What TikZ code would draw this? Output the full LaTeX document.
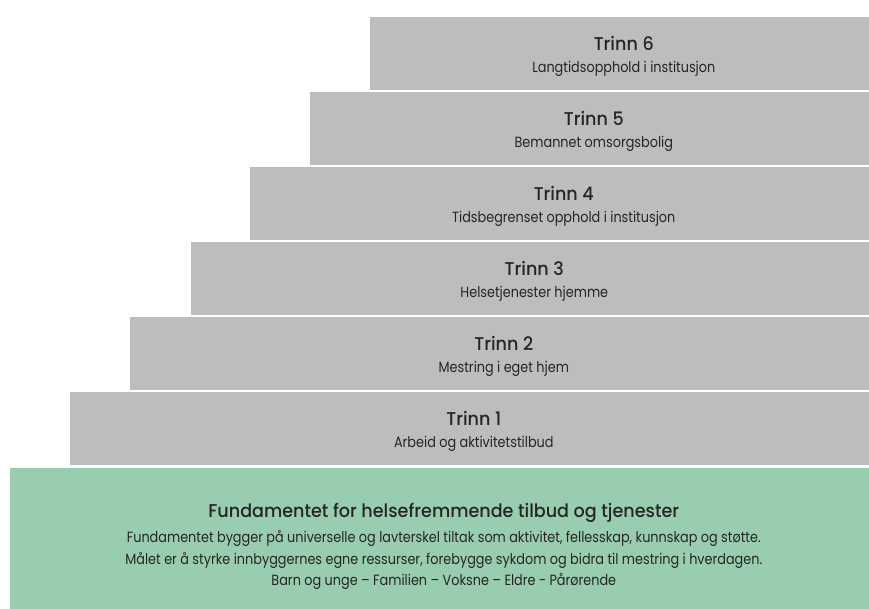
\documentclass[tikz,border=0pt]{standalone}
\usepackage{fontspec}
\setmainfont{Poppins}[FakeStretch=0.866]
\newfontfamily\titlefont{Poppins Medium}[FakeStretch=0.95]
\usetikzlibrary{positioning}
\definecolor{stepgray}{HTML}{BCBDBF}
\definecolor{fundgreen}{HTML}{98CEAF}
\definecolor{textdark}{HTML}{262425}
\newcommand{\steptitle}[1]{{\titlefont\fontsize{18.5}{21.5}\selectfont #1}}

\begin{document}
\begin{tikzpicture}[x=1pt,y=1pt,
	stepbox/.style={rectangle, fill=stepgray, minimum height=73pt, inner sep=0pt, align=center, text=textdark, font=\fontsize{14.8}{21.5}\selectfont},
	fundbox/.style={rectangle, fill=fundgreen, inner sep=0pt}]
	\useasboundingbox (0,0) rectangle (869,-609);
	
	% Levels 6 and 5
	\node [stepbox, anchor=north east, minimum width=508pt] at (878,-17) (T6) {\rule{0pt}{20pt}\steptitle{Trinn 6}\\[0.5pt] Langtidsopphold i institusjon};
	\node [stepbox, below=1.5pt of T6.south east, anchor=north east, minimum width=568pt] (T5) {\rule{0pt}{20pt}\steptitle{Trinn 5}\\[0.5pt] Bemannet omsorgsbolig};
	
	% Levels 4 and 3
	\node [stepbox, below=1.5pt of T5.south east, anchor=north east, minimum width=628pt] (T4) {\rule{0pt}{20pt}\steptitle{Trinn 4}\\[0.5pt] Tidsbegrenset opphold i institusjon};
	\node [stepbox, below=1.5pt of T4.south east, anchor=north east, minimum width=687pt] (T3) {\rule{0pt}{20pt}\steptitle{Trinn 3}\\[0.5pt] Helsetjenester hjemme};
	
	% Levels 2 and 1
	\node [stepbox, below=1.5pt of T3.south east, anchor=north east, minimum width=748pt] (T2) {\rule{0pt}{20pt}\steptitle{Trinn 2}\\[0.5pt] Mestring i eget hjem};
	\node [stepbox, below=1.5pt of T2.south east, anchor=north east, minimum width=808pt] (T1) {\rule{0pt}{20pt}\steptitle{Trinn 1}\\[0.5pt] Arbeid og aktivitetstilbud};
	
	% Foundation
	\node [fundbox, below=3pt of T1.south east, anchor=north east, minimum width=868pt, minimum height=144pt] (Fund) {};
	\node [align=center, text=textdark, inner sep=0pt, font=\fontsize{14.8}{21.5}\selectfont] at ([yshift=-6.5pt]Fund.center) (FundText) {\steptitle{Fundamentet for helsefremmende tilbud og tjenester}\\[3.5pt]
		Fundamentet bygger på universelle og lavterskel tiltak som aktivitet, fellesskap, kunnskap og støtte.\\
		Målet er å styrke innbyggernes egne ressurser, forebygge sykdom og bidra til mestring i hverdagen.\\
		Barn og unge – Familien – Voksne – Eldre - Pårørende};
\end{tikzpicture}
\end{document}
